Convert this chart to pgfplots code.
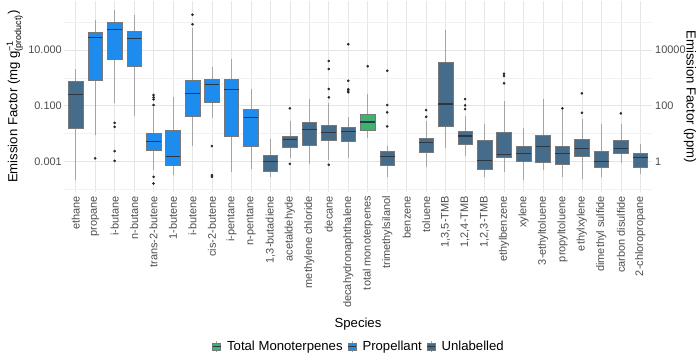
\documentclass[border=0pt]{standalone}
\usepackage{pgfplots}
\pgfplotsset{compat=1.18}
\usepackage{fontspec}
\setmainfont{Liberation Sans}
\definecolor{propblue}{RGB}{30,140,238}
\definecolor{unlab}{RGB}{70,108,140}
\definecolor{monogreen}{RGB}{60,179,113}
\definecolor{boxedge}{RGB}{120,120,120}
\definecolor{whisk}{RGB}{165,165,165}
\definecolor{medcol}{RGB}{45,55,65}
\definecolor{tickgray}{RGB}{77,77,77}
\definecolor{gridmaj}{RGB}{229,229,229}
\definecolor{gridmin}{RGB}{242,242,242}
% pos, fill, lower whisker, lower quartile, median, upper quartile, upper whisker
\newcommand{\bx}[7]{%
  \pgfmathsetmacro{\xl}{#1-0.375}\pgfmathsetmacro{\xr}{#1+0.375}%
  \addplot[forget plot, whisk, line width=0.6bp] coordinates {(#1,#3) (#1,#4)};
  \addplot[forget plot, whisk, line width=0.6bp] coordinates {(#1,#6) (#1,#7)};
  \addplot[forget plot, fill=#2, draw=boxedge, line width=0.5bp] coordinates {(\xl,#4) (\xr,#4) (\xr,#6) (\xl,#6)} --cycle;
  \addplot[forget plot, medcol, line width=1.2bp] coordinates {(\xl,#5) (\xr,#5)};
}
% outliers
\newcommand{\ol}[1]{%
  \addplot[forget plot, only marks, mark=*, mark size=1.1bp, black!85] coordinates {#1};
}
\pgfplotsset{keyimg/.style={legend image code/.code={
  \draw[whisk, line width=0.6bp] (4bp,-5.5bp) -- (4bp,5.5bp);
  \draw[fill=#1, draw=boxedge, line width=0.4bp] (0bp,-3.5bp) rectangle (8bp,3.5bp);
  \draw[medcol, line width=0.9bp] (0bp,0bp) -- (8bp,0bp);}}}
\begin{document}
\begin{tikzpicture}
\useasboundingbox (0,0) rectangle (699bp,355bp);
\begin{axis}[
  at={(64bp,163bp)}, anchor=south west,
  scale only axis, width=588bp, height=190.7bp,
  ymode=log, ymin=8e-5, ymax=560,
  xmin=-0.6, xmax=29.6,
  axis line style={draw=none},
  major tick length=0pt, minor tick length=0pt,
  xtick={0,...,29},
  xticklabels={ethane,propane,i-butane,n-butane,trans-2-butene,1-butene,i-butene,cis-2-butene,i-pentane,n-pentane,{1,3-butadiene},acetaldehyde,methylene chloride,decane,decahydronaphthalene,total monoterpenes,trimethylsilanol,benzene,toluene,{1,3,5-TMB},{1,2,4-TMB},{1,2,3-TMB},ethylbenzene,xylene,3-ethyltoluene,propyltoluene,ethylxylene,dimethyl sulfide,carbon disulfide,2-chloropropane},
  xticklabel style={rotate=90, anchor=east, inner sep=0pt, text=tickgray, font=\fontsize{11}{11}\selectfont},
  xticklabel shift=4bp,
  ytick={0.001,0.1,10},
  yticklabels={0.001,0.100,10.000},
  minor ytick={1e-4,0.01,1,100},
  yticklabel style={anchor=east, inner sep=0pt, text=tickgray, font=\fontsize{11}{11}\selectfont},
  yticklabel shift=2bp,
  xmajorgrids, ymajorgrids, yminorgrids,
  major grid style={gridmaj, line width=0.6bp},
  minor grid style={gridmin, line width=0.5bp},
  every axis y label/.style={at={(axis description cs:-0.0794,0.5)}, rotate=90, anchor=base},
  ylabel={Emission Factor (mg g$^{\mbox{\fontsize{9}{9}\selectfont −1}}_{\mbox{\fontsize{9}{9}\selectfont (product)}}$)},
  every axis x label/.style={at={(axis description cs:0.5,-0.7095)}, anchor=base},
  xlabel={Species},
  label style={font=\fontsize{13.2}{15}\selectfont},
  legend columns=3,
  legend style={at={(axis description cs:0.5,-0.811)}, anchor=center, draw=none, fill=none,
    inner sep=0pt, font=\fontsize{13.2}{15}\selectfont,
    nodes={inner xsep=0pt},
    /tikz/every odd column/.append style={column sep=6bp},
    /tikz/every even column/.append style={column sep=5bp}},
]
\addlegendimage{keyimg=monogreen}\addlegendentry{Total Monoterpenes}
\addlegendimage{keyimg=propblue}\addlegendentry{Propellant}
\addlegendimage{keyimg=unlab}\addlegendentry{Unlabelled}
% ethane
\bx{0}{unlab}{2.08e-4}{0.0154}{0.256}{0.769}{2.03}
% propane
\bx{1}{propblue}{0.00906}{0.815}{27.7}{43.3}{119.7}
\ol{(1,0.00129)}
% i-butane
\bx{2}{propblue}{0.1216}{4.63}{55.5}{95.7}{273.5}
\ol{(2,0.0244) (2,0.0175) (2,0.00235) (2,0.00105)}
% n-butane
\bx{3}{propblue}{0.0425}{2.51}{25.5}{48.2}{181}
% trans-2-butene
\bx{4}{propblue}{4.88e-4}{0.00255}{0.00507}{0.01067}{0.0918}
\ol{(4,0.2415) (4,0.1995) (4,0.1694) (4,0.1056) (4,2.8e-4) (4,1.62e-4)}
% 1-butene
\bx{5}{propblue}{3.22e-4}{7.38e-4}{0.001466}{0.01334}{0.1995}
% i-butene
\bx{6}{propblue}{0.00355}{0.0436}{0.278}{0.836}{60.3}
\ol{(6,185) (6,83.7)}
% cis-2-butene
\bx{7}{propblue}{0.0352}{0.132}{0.586}{0.908}{2.51}
\ol{(7,0.00355) (7,3.22e-4) (7,2.8e-4)}
% i-pentane
\bx{8}{propblue}{4.24e-4}{0.00834}{0.387}{0.908}{4.63}
% n-pentane
\bx{9}{propblue}{5.3e-4}{0.00364}{0.0382}{0.074}{0.407}
% 1,3-butadiene
\bx{10}{unlab}{2.8e-4}{4.6e-4}{0.001}{0.00173}{0.00634}
% acetaldehyde
\bx{11}{unlab}{0.00135}{0.00327}{0.00598}{0.00793}{0.0281}
\ol{(11,0.0804) (11,8.2e-4)}
% methylene chloride
\bx{12}{unlab}{8.01e-4}{0.00395}{0.01368}{0.0252}{0.1734}
% decane
\bx{13}{unlab}{0.001115}{0.00583}{0.01104}{0.0202}{0.1277}
\ol{(13,4.03) (13,2.08) (13,0.397) (13,0.1995) (13,7.57e-4)}
% decahydronaphthalene
\bx{14}{unlab}{0.001285}{0.00524}{0.01159}{0.0171}{0.0392}
\ol{(14,16.0) (14,0.789) (14,0.387) (14,0.3365) (14,0.302)}
% total monoterpenes
\bx{15}{monogreen}{0.00671}{0.01303}{0.0259}{0.0514}{0.2624}
\ol{(15,2.59)}
% trimethylsilanol
\bx{16}{unlab}{2.74e-4}{7.2e-4}{0.00155}{0.00229}{0.00355}
\ol{(16,1.80) (16,0.1056) (16,0.0577) (16,0.0181)}
% toluene
\bx{18}{unlab}{6.41e-4}{0.00211}{0.00482}{0.00689}{0.0274}
\ol{(18,0.0698) (18,0.0401)}
% 1,3,5-TMB
\bx{19}{unlab}{0.00294}{0.0181}{0.1148}{3.61}{53.6}
% 1,2,4-TMB
\bx{20}{unlab}{0.00159}{0.0043}{0.00813}{0.0126}{0.0436}
\ol{(20,0.1734) (20,0.103) (20,0.0759)}
% 1,2,3-TMB
\bx{21}{unlab}{2.67e-4}{5.16e-4}{0.00109}{0.00583}{0.0219}
% ethylbenzene
\bx{22}{unlab}{4.24e-4}{0.00139}{0.00173}{0.01104}{0.147}
\ol{(22,1.41) (22,1.16) (22,0.636)}
% xylene
\bx{23}{unlab}{2.08e-4}{0.001}{0.00194}{0.00364}{0.0154}
% 3-ethyltoluene
\bx{24}{unlab}{4.88e-4}{9.7e-4}{0.00335}{0.00883}{0.1734}
% propyltoluene
\bx{25}{unlab}{2.74e-4}{8.01e-4}{0.00188}{0.00355}{0.0698}
\ol{(25,0.0804)}
% ethylxylene
\bx{26}{unlab}{2.26e-4}{0.00159}{0.00294}{0.00618}{0.0324}
\ol{(26,0.278) (26,0.0558)}
% dimethyl sulfide
\bx{27}{unlab}{2.67e-4}{6.41e-4}{0.001026}{0.00235}{0.0219}
% carbon disulfide
\bx{28}{unlab}{8.91e-4}{0.00204}{0.00301}{0.00598}{0.0219}
\ol{(28,0.0531)}
% 2-chloropropane
\bx{29}{unlab}{3.5e-4}{6.41e-4}{0.00139}{0.00204}{0.00409}
\end{axis}
\begin{axis}[
  at={(64bp,163bp)}, anchor=south west,
  scale only axis, width=588bp, height=190.7bp,
  ymode=log, ymin=0.08, ymax=560000,
  xmin=-0.6, xmax=29.6,
  hide x axis,
  axis y line*=right,
  axis line style={draw=none},
  major tick length=0pt, minor tick length=0pt,
  ytick={1,100,10000},
  yticklabels={1,100,10000},
  yticklabel style={anchor=west, inner sep=0pt, text=tickgray, font=\fontsize{11}{11}\selectfont},
  yticklabel shift=3bp,
  every axis y label/.style={at={(axis description cs:1.0587,0.5)}, rotate=-90, anchor=base},
  ylabel={Emission Factor (ppm)},
  label style={font=\fontsize{13.2}{15}\selectfont},
]
\end{axis}
\end{tikzpicture}
\end{document}
